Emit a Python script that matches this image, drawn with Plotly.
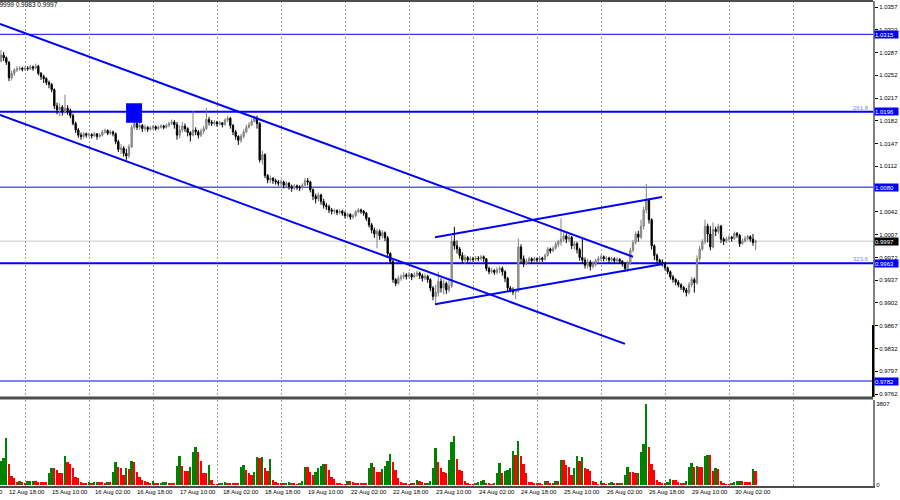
import plotly.graph_objects as go

# EURUSD H1, bar index 0 = 12 Aug 16:00
first_open = 1.0274
close = [
    1.0283, 1.0279, 1.0272, 1.0248, 1.0255, 1.0260, 1.0262, 1.0263, 1.0261, 1.0263,
    1.0262, 1.0265, 1.0263, 1.0266, 1.0255, 1.0250, 1.0247, 1.0241, 1.0238, 1.0230,
    1.0205, 1.0199, 1.0203, 1.0196, 1.0201, 1.0198, 1.0190, 1.0178, 1.0168, 1.0160,
    1.0158, 1.0162, 1.0160, 1.0161, 1.0159, 1.0162, 1.0158, 1.0160, 1.0165, 1.0167,
    1.0163, 1.0165, 1.0162, 1.0150, 1.0138, 1.0140, 1.0132, 1.0128, 1.0142, 1.0172,
    1.0178, 1.0172, 1.0175, 1.0170, 1.0172, 1.0169, 1.0171, 1.0173, 1.0170, 1.0172,
    1.0174, 1.0172, 1.0175, 1.0178, 1.0180, 1.0176, 1.0160, 1.0168, 1.0174, 1.0170,
    1.0164, 1.0160, 1.0168, 1.0165, 1.0160, 1.0166, 1.0170, 1.0184, 1.0180, 1.0178,
    1.0180, 1.0177, 1.0179, 1.0176, 1.0183, 1.0186, 1.0175, 1.0165, 1.0158, 1.0152,
    1.0158, 1.0165, 1.0172, 1.0176, 1.0181, 1.0186, 1.0178, 1.0122, 1.0130, 1.0098,
    1.0091, 1.0094, 1.0090, 1.0088, 1.0086, 1.0088, 1.0083, 1.0086, 1.0081, 1.0078,
    1.0082, 1.0080, 1.0079, 1.0083, 1.0090, 1.0088, 1.0076, 1.0066, 1.0062, 1.0068,
    1.0058, 1.0052, 1.0050, 1.0045, 1.0043, 1.0044, 1.0041, 1.0043, 1.0040, 1.0036,
    1.0038, 1.0034, 1.0036, 1.0042, 1.0045, 1.0043, 1.0040, 1.0032, 1.0022, 1.0014,
    1.0008, 1.0012, 1.0005, 1.0010, 1.0002, 0.9978, 0.9966, 0.9938, 0.9932, 0.9940,
    0.9942, 0.9945, 0.9943, 0.9946, 0.9942, 0.9945, 0.9948, 0.9944, 0.9940, 0.9943,
    0.9938, 0.9925, 0.9912, 0.9918, 0.9935, 0.9925, 0.9932, 0.9922, 0.9928, 0.9997,
    0.9990, 0.9985, 0.9975, 0.9968, 0.9972, 0.9968, 0.9970, 0.9969, 0.9971, 0.9970,
    0.9973, 0.9970, 0.9955, 0.9950, 0.9952, 0.9949, 0.9953, 0.9955, 0.9950, 0.9940,
    0.9925, 0.9922, 0.9919, 0.9920, 0.9988, 0.9970, 0.9962, 0.9966, 0.9970, 0.9967,
    0.9970, 0.9968, 0.9971, 0.9969, 0.9975, 0.9985, 0.9982, 0.9986, 0.9992, 0.9996,
    1.0000, 1.0005, 1.0000, 1.0003, 0.9990, 0.9993, 0.9984, 0.9972, 0.9968, 0.9960,
    0.9965, 0.9958, 0.9962, 0.9967, 0.9970, 0.9973, 0.9970, 0.9971, 0.9968, 0.9970,
    0.9967, 0.9969, 0.9966, 0.9963, 0.9955, 0.9963, 0.9983, 0.9995, 1.0008, 1.0003,
    1.0020, 1.0045, 1.0060, 1.0030, 0.9990, 0.9975, 0.9968, 0.9965, 0.9963, 0.9956,
    0.9950, 0.9942, 0.9938, 0.9934, 0.9930, 0.9926, 0.9922, 0.9918, 0.9930, 0.9938,
    0.9933, 0.9970, 0.9985, 0.9996, 1.0020, 1.0008, 0.9988, 1.0015, 1.0012, 1.0020,
    1.0000, 0.9997, 1.0000, 1.0003, 1.0001, 1.0009, 1.0006, 0.9993, 0.9997, 1.0001,
    1.0004, 1.0000, 0.9995, 0.9997,
]
high = [
    1.0291, 1.0288, 1.0281, 1.0274, 1.0259, 1.0263, 1.0266, 1.0266, 1.0265, 1.0266,
    1.0266, 1.0268, 1.0267, 1.0270, 1.0268, 1.0257, 1.0253, 1.0249, 1.0244, 1.0240,
    1.0232, 1.0210, 1.0209, 1.0206, 1.0222, 1.0206, 1.0201, 1.0193, 1.0181, 1.0171,
    1.0164, 1.0165, 1.0164, 1.0164, 1.0163, 1.0165, 1.0163, 1.0163, 1.0168, 1.0170,
    1.0169, 1.0168, 1.0167, 1.0164, 1.0153, 1.0146, 1.0143, 1.0139, 1.0146, 1.0176,
    1.0209, 1.0183, 1.0180, 1.0177, 1.0176, 1.0174, 1.0174, 1.0176, 1.0175, 1.0175,
    1.0177, 1.0176, 1.0178, 1.0181, 1.0184, 1.0183, 1.0180, 1.0175, 1.0180, 1.0178,
    1.0172, 1.0166, 1.0197, 1.0172, 1.0168, 1.0170, 1.0174, 1.0202, 1.0188, 1.0183,
    1.0183, 1.0182, 1.0182, 1.0180, 1.0186, 1.0190, 1.0188, 1.0177, 1.0168, 1.0160,
    1.0162, 1.0169, 1.0176, 1.0180, 1.0185, 1.0190, 1.0190, 1.0180, 1.0136, 1.0132,
    1.0100, 1.0098, 1.0095, 1.0093, 1.0091, 1.0092, 1.0090, 1.0089, 1.0088, 1.0084,
    1.0085, 1.0084, 1.0083, 1.0086, 1.0094, 1.0094, 1.0090, 1.0078, 1.0070, 1.0072,
    1.0070, 1.0062, 1.0056, 1.0053, 1.0048, 1.0047, 1.0046, 1.0046, 1.0045, 1.0043,
    1.0041, 1.0040, 1.0039, 1.0045, 1.0048, 1.0047, 1.0045, 1.0042, 1.0034, 1.0025,
    1.0018, 1.0016, 1.0015, 1.0014, 1.0012, 1.0005, 0.9980, 0.9968, 0.9940, 0.9944,
    0.9946, 0.9949, 0.9948, 0.9950, 0.9948, 0.9949, 0.9952, 0.9950, 0.9947, 0.9947,
    0.9945, 0.9940, 0.9928, 0.9930, 0.9950, 0.9940, 0.9938, 0.9935, 0.9940, 1.0005,
    1.0019, 0.9998, 0.9988, 0.9980, 0.9976, 0.9974, 0.9974, 0.9973, 0.9974, 0.9974,
    0.9976, 0.9975, 0.9971, 0.9958, 0.9956, 0.9954, 0.9957, 0.9959, 0.9958, 0.9952,
    0.9942, 0.9928, 0.9926, 0.9924, 1.0001, 0.9992, 0.9975, 0.9970, 0.9973, 0.9972,
    0.9973, 0.9972, 0.9974, 0.9973, 0.9978, 0.9988, 0.9987, 0.9989, 0.9996, 0.9999,
    1.0032, 1.0011, 1.0009, 1.0007, 1.0005, 0.9997, 0.9996, 0.9987, 1.0002, 0.9972,
    0.9970, 0.9968, 0.9966, 0.9970, 0.9974, 0.9976, 0.9975, 0.9974, 0.9973, 0.9973,
    0.9972, 0.9972, 0.9971, 0.9968, 0.9965, 0.9967, 0.9987, 0.9999, 1.0012, 1.0013,
    1.0030, 1.0050, 1.0085, 1.0062, 1.0032, 0.9992, 0.9978, 0.9970, 0.9969, 0.9965,
    0.9958, 0.9952, 0.9945, 0.9940, 0.9937, 0.9932, 0.9928, 0.9925, 0.9934, 0.9942,
    0.9941, 0.9975, 0.9990, 1.0000, 1.0030, 1.0024, 1.0020, 1.0026, 1.0019, 1.0024,
    1.0022, 1.0003, 1.0004, 1.0006, 1.0005, 1.0012, 1.0011, 1.0008, 1.0001, 1.0005,
    1.0007, 1.0006, 1.0008, 0.9999,
]
low = [
    1.0272, 1.0274, 1.0268, 1.0243, 1.0244, 1.0251, 1.0257, 1.0259, 1.0258, 1.0259,
    1.0259, 1.0260, 1.0259, 1.0261, 1.0252, 1.0245, 1.0240, 1.0237, 1.0232, 1.0226,
    1.0200, 1.0192, 1.0189, 1.0190, 1.0193, 1.0191, 1.0186, 1.0175, 1.0163, 1.0156,
    1.0153, 1.0155, 1.0156, 1.0157, 1.0155, 1.0157, 1.0153, 1.0156, 1.0158, 1.0162,
    1.0160, 1.0160, 1.0158, 1.0146, 1.0134, 1.0131, 1.0127, 1.0122, 1.0125, 1.0140,
    1.0169, 1.0168, 1.0168, 1.0165, 1.0166, 1.0165, 1.0167, 1.0168, 1.0167, 1.0168,
    1.0170, 1.0169, 1.0170, 1.0172, 1.0175, 1.0170, 1.0153, 1.0155, 1.0164, 1.0165,
    1.0158, 1.0150, 1.0158, 1.0160, 1.0155, 1.0157, 1.0162, 1.0168, 1.0175, 1.0174,
    1.0175, 1.0173, 1.0175, 1.0172, 1.0175, 1.0180, 1.0170, 1.0160, 1.0153, 1.0145,
    1.0148, 1.0155, 1.0163, 1.0170, 1.0174, 1.0180, 1.0170, 1.0118, 1.0115, 1.0094,
    1.0086, 1.0086, 1.0085, 1.0084, 1.0082, 1.0082, 1.0078, 1.0080, 1.0076, 1.0073,
    1.0076, 1.0076, 1.0074, 1.0076, 1.0082, 1.0083, 1.0072, 1.0060, 1.0055, 1.0058,
    1.0053, 1.0047, 1.0045, 1.0040, 1.0038, 1.0039, 1.0037, 1.0038, 1.0036, 1.0032,
    1.0033, 1.0030, 1.0031, 1.0034, 1.0040, 1.0039, 1.0036, 1.0028, 1.0018, 1.0009,
    1.0002, 0.9986, 0.9999, 1.0001, 0.9997, 0.9972, 0.9962, 0.9933, 0.9928, 0.9930,
    0.9936, 0.9939, 0.9938, 0.9940, 0.9937, 0.9940, 0.9942, 0.9939, 0.9935, 0.9937,
    0.9933, 0.9920, 0.9906, 0.9902, 0.9912, 0.9918, 0.9915, 0.9916, 0.9918, 0.9925,
    0.9984, 0.9978, 0.9970, 0.9963, 0.9962, 0.9964, 0.9965, 0.9965, 0.9966, 0.9966,
    0.9967, 0.9965, 0.9951, 0.9946, 0.9947, 0.9945, 0.9946, 0.9948, 0.9944, 0.9934,
    0.9920, 0.9918, 0.9914, 0.9908, 0.9918, 0.9963, 0.9957, 0.9960, 0.9963, 0.9963,
    0.9964, 0.9964, 0.9965, 0.9965, 0.9967, 0.9973, 0.9978, 0.9980, 0.9984, 0.9988,
    0.9990, 0.9996, 0.9994, 0.9995, 0.9985, 0.9984, 0.9978, 0.9967, 0.9962, 0.9955,
    0.9955, 0.9952, 0.9955, 0.9958, 0.9964, 0.9966, 0.9966, 0.9966, 0.9964, 0.9965,
    0.9963, 0.9964, 0.9962, 0.9958, 0.9950, 0.9950, 0.9960, 0.9980, 0.9992, 0.9996,
    1.0000, 1.0015, 1.0040, 1.0024, 0.9984, 0.9968, 0.9963, 0.9960, 0.9958, 0.9952,
    0.9946, 0.9938, 0.9933, 0.9929, 0.9926, 0.9922, 0.9918, 0.9912, 0.9915, 0.9926,
    0.9918, 0.9930, 0.9966, 0.9982, 0.9992, 0.9995, 0.9983, 0.9986, 1.0005, 1.0008,
    0.9994, 0.9991, 0.9994, 0.9996, 0.9996, 0.9999, 1.0002, 0.9988, 0.9992, 0.9995,
    0.9998, 0.9996, 0.9990, 0.9983,
]
volume = [
    1150, 1270, 2220, 990, 425, 316, 150, 180, 130, 110,
    170, 190, 200, 200, 160, 140, 140, 130, 550, 790,
    790, 720, 550, 550, 1370, 1070, 990, 790, 390, 310,
    150, 75, 75, 150, 110, 120, 150, 150, 130, 110,
    140, 120, 630, 1100, 865, 790, 470, 790, 750, 1150,
    1100, 630, 360, 230, 200, 150, 60, 190, 75, 50,
    110, 140, 150, 110, 75, 75, 900, 1370, 910, 660,
    660, 865, 1570, 1780, 1540, 1150, 550, 550, 940, 230,
    40, 40, 60, 110, 150, 110, 110, 110, 110, 75,
    830, 940, 710, 550, 470, 630, 1300, 1260, 1330, 790,
    660, 1200, 230, 150, 110, 75, 60, 75, 150, 110,
    75, 40, 75, 200, 865, 865, 620, 470, 630, 820,
    900, 990, 990, 690, 390, 300, 110, 110, 40, 40,
    200, 200, 140, 110, 110, 110, 75, 75, 800, 1050,
    850, 630, 630, 750, 900, 1150, 1450, 1080, 710, 350,
    150, 110, 75, 40, 110, 110, 230, 200, 150, 75,
    110, 200, 790, 1730, 1100, 790, 630, 580, 1180, 2000,
    2280, 1230, 710, 680, 200, 110, 40, 40, 75, 150,
    200, 230, 110, 75, 40, 75, 580, 1030, 580, 680,
    710, 790, 1620, 1420, 2090, 1350, 990, 550, 150, 150,
    110, 110, 75, 40, 200, 200, 110, 75, 190, 190,
    1180, 1180, 930, 860, 470, 790, 1340, 1120, 1300, 790,
    750, 660, 190, 150, 40, 190, 60, 40, 110, 140,
    110, 75, 110, 110, 470, 860, 630, 610, 550, 580,
    1540, 1940, 3807, 1780, 990, 710, 230, 150, 110, 75,
    150, 260, 230, 230, 150, 110, 60, 190, 860, 1030,
    830, 900, 830, 830, 1340, 1400, 1400, 680, 800, 770,
    200, 110, 40, 20, 75, 120, 170, 200, 190, 150,
    150, 140, 770, 680,
]

price_ticks = [1.0357, 1.0322, 1.0287, 1.0252, 1.0217, 1.0182, 1.0147, 1.0112, 1.0077,
               1.0042, 1.0007, 0.9972, 0.9937, 0.9902, 0.9867, 0.9832, 0.9797, 0.9762]
levels = [1.0315, 1.0196, 1.0080, 0.9963, 0.9782]
fib_levels = [1.0196, 0.9963]
fib_text = ["261.8", "323.6"]
last_price = 0.9997
header_text = "0.9999 0.9983 0.9997"

time_idx = [-14, 2, 18, 34, 50, 66, 82, 98, 114, 130, 146, 162, 178, 194, 210, 226, 242, 258, 274]
time_text = ["12 Aug 02:00", "12 Aug 18:00", "15 Aug 10:00", "16 Aug 02:00", "16 Aug 18:00",
             "17 Aug 10:00", "18 Aug 02:00", "18 Aug 18:00", "19 Aug 10:00", "22 Aug 02:00",
             "22 Aug 18:00", "23 Aug 10:00", "24 Aug 02:00", "24 Aug 18:00", "25 Aug 10:00",
             "26 Aug 02:00", "26 Aug 18:00", "29 Aug 10:00", "30 Aug 02:00"]
grid_idx = [9, 33, 57, 81, 105, 129, 153, 177, 201, 225, 249, 273, 297]

# trend lines: (x0, y0, x1, y1)
channels = [
    (-0.375, 1.0331, 237, 0.9973),
    (-0.375, 1.0191, 234, 0.9839),
    (162.75, 1.0003, 247.9, 1.0065),
    (162.75, 0.9900, 248.2, 0.9962),
]
marker_box = (46.9, 1.0179, 52.9, 1.0209)

BLUE = "#0000ff"
FONT = "Liberation Sans"
x_rng = [-0.375, 327]
y_rng = [0.975739, 1.036622]
vol_rng = [-47, 3995]

bars = list(range(len(close)))
opens = [first_open] + close[:-1]
vol_colors = ["#008000" if i == 0 or v > volume[i - 1] else "#ff0000" for i, v in enumerate(volume)]

fig = go.Figure()
fig.add_trace(go.Candlestick(
    x=bars, open=opens, high=high, low=low, close=close,
    increasing=dict(line=dict(color="#808080", width=1), fillcolor="#a8a8a8"),
    decreasing=dict(line=dict(color="#000000", width=1), fillcolor="#000000"),
    whiskerwidth=0, showlegend=False, xaxis="x", yaxis="y", hoverinfo="skip",
))
fig.add_trace(go.Bar(
    x=bars, y=volume, marker=dict(color=vol_colors, line=dict(width=0)),
    width=0.72, showlegend=False, xaxis="x2", yaxis="y2", hoverinfo="skip",
))

shapes = []
# level lines
lvl_width = {1.0196: 2, 0.9963: 2}
for lv in levels:
    shapes.append(dict(type="line", xref="paper", yref="y", x0=0, x1=1, y0=lv, y1=lv,
                       line=dict(color=BLUE, width=lvl_width.get(lv, 1)), layer="below"))
shapes.append(dict(type="line", xref="paper", yref="y", x0=0, x1=1, y0=last_price, y1=last_price,
                   line=dict(color="#c8c8c8", width=1), layer="below"))
for x0, y0, x1, y1 in channels:
    shapes.append(dict(type="line", xref="x", yref="y", x0=x0, y0=y0, x1=x1, y1=y1,
                       line=dict(color=BLUE, width=2)))
shapes.append(dict(type="rect", xref="x", yref="y", x0=marker_box[0], x1=marker_box[2],
                   y0=marker_box[1], y1=marker_box[3], fillcolor=BLUE, line=dict(width=0)))
# frame
shapes.append(dict(type="line", xref="paper", yref="paper", x0=0, x1=1, y0=0.1814, y1=0.1814,
                   line=dict(color="#4d4d4d", width=3)))
shapes.append(dict(type="line", xref="paper", yref="paper", x0=0, x1=1, y0=1, y1=1,
                   line=dict(color="#4d4d4d", width=2)))
shapes.append(dict(type="line", xref="paper", yref="paper", x0=1, x1=1, y0=0.1835, y1=0.332,
                   line=dict(color="#000000", width=2)))

ann = []
for lv in levels:
    ann.append(dict(xref="paper", yref="y", x=1, y=lv, xanchor="left", yanchor="middle",
                    text=f"{lv:.4f}", showarrow=False, bgcolor=BLUE, width=23, height=7,
                    align="left", borderpad=0, xshift=1, font=dict(color="white", size=6, family=FONT)))
ann.append(dict(xref="paper", yref="y", x=1, y=last_price, xanchor="left", yanchor="middle",
                text=f"{last_price:.4f}", showarrow=False, bgcolor="#000000", width=23, height=7,
                align="left", borderpad=0, xshift=1, font=dict(color="white", size=6, family=FONT)))
for lv, t in zip(fib_levels, fib_text):
    ann.append(dict(xref="paper", yref="y", x=1, y=lv, xanchor="right", yanchor="bottom",
                    text=t, showarrow=False, xshift=-2, yshift=-1,
                    font=dict(color="#8080ff", size=6, family=FONT)))
for idx, t in zip(time_idx, time_text):
    px = (idx - x_rng[0]) / (x_rng[1] - x_rng[0])
    ann.append(dict(xref="paper", yref="paper", x=px, y=-0.0124, xanchor="left", yanchor="middle",
                    text=t, showarrow=False, xshift=1, font=dict(color="black", size=6, family=FONT)))
ann.append(dict(xref="paper", yref="paper", x=60 / 873, y=0.993, xanchor="right", yanchor="middle",
                text=header_text, showarrow=False, font=dict(color="black", size=6.5, family=FONT)))

grid = dict(showgrid=True, gridcolor="#a0a0a0", griddash="2px,2px", gridwidth=1,
            tickvals=grid_idx, showticklabels=False, ticks="", zeroline=False)

fig.update_layout(
    width=900, height=500,
    margin=dict(l=0, r=27, t=1, b=14),
    paper_bgcolor="white", plot_bgcolor="white",
    font=dict(family=FONT, size=6, color="black"),
    showlegend=False, bargap=0,
    xaxis=dict(domain=[0, 1], anchor="y", range=x_rng, rangeslider=dict(visible=False), **grid),
    xaxis2=dict(domain=[0, 1], anchor="y2", range=x_rng, matches="x", showline=True,
                linecolor="#4d4d4d", linewidth=2, **grid),
    yaxis=dict(domain=[0.1835, 1], anchor="x", side="right", range=y_rng, tickvals=price_ticks,
               ticktext=[f"{v:.4f}" for v in price_ticks], ticks="outside", ticklen=3,
               tickcolor="black", showgrid=False, zeroline=False, showline=True,
               linecolor="#808080", linewidth=2, tickfont=dict(size=6)),
    yaxis2=dict(domain=[0, 0.1773], anchor="x2", side="right", range=vol_rng, tickvals=[0, 3807],
                ticktext=["0", "3807"], ticks="", showgrid=False, zeroline=False, showline=True,
                linecolor="#808080", linewidth=2, tickfont=dict(size=6)),
    shapes=shapes,
    annotations=ann,
)

fig.write_html("out.html", config={"displayModeBar": False},
               post_script="document.body.style.margin='0px';")
